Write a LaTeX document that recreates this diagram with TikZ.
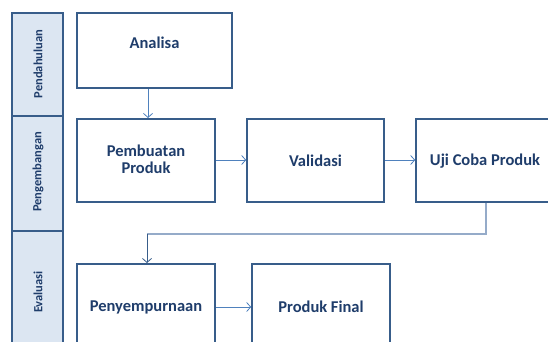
\documentclass[tikz,border=0pt]{standalone}
\usepackage{fontspec}
\setmainfont{Carlito}
\usetikzlibrary{arrows.meta}
\definecolor{boxline}{HTML}{385D8A}
\definecolor{txt}{HTML}{1F3D6B}
\definecolor{panel}{HTML}{DCE6F2}
\definecolor{arr}{HTML}{4F81BD}
\definecolor{conn}{HTML}{95ABC9}
\begin{document}
\begin{tikzpicture}[x=1pt,y=-1pt,
  stagebox/.style={draw=boxline,line width=1.6pt,fill=white},
  lbl/.style={font=\bfseries\fontsize{16.5}{17}\selectfont,text=txt,align=center},
  side/.style={font=\bfseries\fontsize{12.5}{14}\selectfont,text=txt,rotate=90},
  flow/.style={draw=arr,line width=0.8pt,-{Straight Barb[length=4pt,width=9pt,line width=0.8pt]}},
  longflow/.style={draw=conn,line width=2pt}]
\useasboundingbox (0,0) rectangle (548,342);
\clip (0,0) rectangle (548,342);
% side panel
\draw[fill=panel,draw=boxline,line width=1.4pt] (12,13) rectangle (63,360);
\draw[boxline,line width=1.4pt] (12,116) -- (63,116);
\draw[boxline,line width=1.4pt] (12,231) -- (63,231);
\node[side] (s1) at (38,64) {Pendahuluan};
\node[side] (s2) at (38,172) {Pengembangan};
\node[side] (s3) at (38,292) {Evaluasi};
% boxes
\draw[stagebox] (77,13) rectangle (232,88);
\node[lbl] (analisa) at (154.5,43) {Analisa};
\draw[stagebox] (77,119) rectangle (215,202);
\node[lbl] (pembuatan) at (146,159) {Pembuatan\\Produk};
\draw[stagebox] (247,119) rectangle (384,202);
\node[lbl] (validasi) at (315.5,161) {Validasi};
\draw[stagebox] (416,119) rectangle (556,202);
\node[lbl] (uji) at (485,161) {Uji Coba Produk};
\draw[stagebox] (77,264) rectangle (215,360);
\node[lbl] (penyemp) at (146,307) {Penyempurnaan};
\draw[stagebox] (252,264) rectangle (390,360);
\node[lbl] (final) at (321,307) {Produk Final};
% anchor coordinates
\coordinate (analisaB) at (148,88.8);
\coordinate (pembT) at (148,118);
\coordinate (pembR) at (215.8,160);
\coordinate (valL) at (246.2,160);
\coordinate (valR) at (384.8,160);
\coordinate (ujiL) at (415.2,160);
\coordinate (ujiB) at (486,202.8);
\coordinate (bend1) at (486,234);
\coordinate (bend2) at (147,234);
\coordinate (penT) at (147,263);
\coordinate (penR) at (215.8,307);
\coordinate (finL) at (251.2,307);
% connectors
\draw[flow] (analisaB) -- (pembT);
\draw[flow] (pembR) -- (valL);
\draw[flow] (valR) -- (ujiL);
\draw[longflow] (ujiB) -- (bend1) -- (bend2);
\draw[flow,draw=boxline] (bend2) -- (penT);
\draw[flow] (penR) -- (finL);
\end{tikzpicture}
\end{document}
